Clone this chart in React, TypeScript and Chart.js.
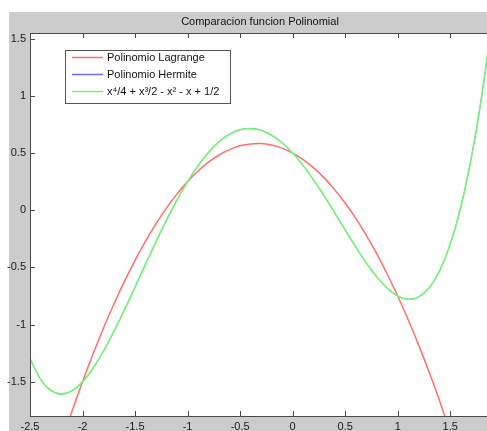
import React, { useEffect, useRef } from "react";
import { Chart, registerables } from "chart.js";

Chart.register(...registerables);

const chartTitle = "Comparacion funcion Polinomial";
const legendLabels = [
  "Polinomio Lagrange",
  "Polinomio Hermite",
  "x\u2074/4 + x\u00b3/2 - x\u00b2 - x + 1/2",
];

const xValues = [
  -2.5, -2.4, -2.3, -2.2, -2.1, -2.0, -1.9, -1.8, -1.7, -1.6, -1.5, -1.4, -1.3,
  -1.2, -1.1, -1.0, -0.9, -0.8, -0.7, -0.6, -0.5, -0.4, -0.3, -0.2, -0.1, 0.0,
  0.1, 0.2, 0.3, 0.4, 0.5, 0.6, 0.7, 0.8, 0.9, 1.0, 1.1, 1.2, 1.3, 1.4, 1.5,
  1.6, 1.7, 1.8, 1.9,
];

const lagrangeValues = [
  null, null, -2.318, -2.03, -1.758, -1.5, -1.258, -1.03, -0.818, -0.62, -0.438,
  -0.27, -0.118, 0.02, 0.143, 0.25, 0.343, 0.42, 0.483, 0.53, 0.563, 0.58,
  0.583, 0.57, 0.543, 0.5, 0.443, 0.37, 0.283, 0.18, 0.063, -0.07, -0.218,
  -0.38, -0.558, -0.75, -0.958, -1.18, -1.418, -1.67, -1.938, -2.22, null, null,
  null,
];

const hermiteValues = [
  -1.297, -1.478, -1.577, -1.608, -1.579, -1.5, -1.382, -1.232, -1.059, -0.87,
  -0.672, -0.472, -0.275, -0.086, 0.091, 0.25, 0.39, 0.506, 0.599, 0.664,
  0.703, 0.714, 0.699, 0.656, 0.59, 0.5, 0.391, 0.264, 0.126, -0.022, -0.172,
  -0.32, -0.459, -0.582, -0.682, -0.75, -0.779, -0.758, -0.678, -0.528, -0.297,
  0.026, 0.455, 1.0, 1.678,
];

const exactValues = [
  -1.297, -1.478, -1.577, -1.608, -1.579, -1.5, -1.382, -1.232, -1.059, -0.87,
  -0.672, -0.472, -0.275, -0.086, 0.091, 0.25, 0.39, 0.506, 0.599, 0.664,
  0.703, 0.714, 0.699, 0.656, 0.59, 0.5, 0.391, 0.264, 0.126, -0.022, -0.172,
  -0.32, -0.459, -0.582, -0.682, -0.75, -0.779, -0.758, -0.678, -0.528, -0.297,
  0.026, 0.455, 1.0, 1.678,
];

const xTicks = [-2.5, -2, -1.5, -1, -0.5, 0, 0.5, 1, 1.5];
const yTicks = [-1.5, -1, -0.5, 0, 0.5, 1, 1.5];

const FONT = '"Liberation Sans", Arial, sans-serif';
const RED = "#ff6e6e";
const BLUE = "#6a6aff";
const GREEN = "#74f274";
const AXIS = "#4a4a4a";

function pts(vals: (number | null)[]) {
  return xValues.map((x, i) => ({ x, y: vals[i] }));
}

const decorPlugin = {
  id: "decor",
  beforeDraw(chart: any) {
    const { ctx, chartArea: a, width, height } = chart;
    ctx.save();
    ctx.fillStyle = "#ffffff";
    ctx.fillRect(0, 0, width, height);
    ctx.fillStyle = "#cccccc";
    ctx.fillRect(9, 12, width - 9, height - 12);
    ctx.fillStyle = "#ffffff";
    ctx.fillRect(a.left, a.top, a.right - a.left, a.bottom - a.top);
    ctx.restore();
  },
  afterDraw(chart: any) {
    const { ctx, chartArea: a, scales } = chart;
    const xs = scales.x;
    const ys = scales.y;
    ctx.save();
    ctx.strokeStyle = AXIS;
    ctx.lineWidth = 1;
    ctx.beginPath();
    ctx.moveTo(Math.round(a.left) + 0.5, a.top);
    ctx.lineTo(Math.round(a.left) + 0.5, a.bottom + 1);
    ctx.moveTo(a.left, Math.round(a.top) + 0.5);
    ctx.lineTo(a.right, Math.round(a.top) + 0.5);
    ctx.moveTo(a.left, Math.round(a.bottom) + 0.5);
    ctx.lineTo(a.right, Math.round(a.bottom) + 0.5);
    const tl = 5;
    xTicks.forEach((v) => {
      const px = Math.round(xs.getPixelForValue(v)) + 0.5;
      ctx.moveTo(px, a.bottom);
      ctx.lineTo(px, a.bottom - tl);
      ctx.moveTo(px, a.top);
      ctx.lineTo(px, a.top + tl);
    });
    yTicks.forEach((v) => {
      const py = Math.round(ys.getPixelForValue(v)) + 0.5;
      ctx.moveTo(a.left, py);
      ctx.lineTo(a.left + tl, py);
    });
    ctx.stroke();

    ctx.fillStyle = "#111";
    ctx.font = "11px " + FONT;
    ctx.textAlign = "center";
    ctx.textBaseline = "middle";
    ctx.fillText(chartTitle, 260, 22);

    const lx = 65, ly = 50, lw = 165, lh = 53;
    ctx.fillStyle = "#ffffff";
    ctx.fillRect(lx, ly, lw, lh);
    ctx.strokeStyle = "#555";
    ctx.strokeRect(lx + 0.5, ly + 0.5, lw, lh);
    const colors = [RED, BLUE, GREEN];
    legendLabels.forEach((lab, i) => {
      const y = 57 + i * 17;
      ctx.strokeStyle = colors[i];
      ctx.lineWidth = 1.5;
      ctx.beginPath();
      ctx.moveTo(72, y + 0.5);
      ctx.lineTo(103, y + 0.5);
      ctx.stroke();
      ctx.fillStyle = "#111";
      ctx.textAlign = "left";
      ctx.textBaseline = "middle";
      ctx.fillText(lab, 107, y + 1);
    });
    ctx.restore();
  },
};

export default function App() {
  const ref = useRef<HTMLCanvasElement | null>(null);

  useEffect(() => {
    if (!ref.current) return;
    const tickFont = { family: FONT, size: 11 };
    const chart = new Chart(ref.current, {
      type: "line",
      data: {
        datasets: [
          {
            label: legendLabels[0],
            data: pts(lagrangeValues),
            borderColor: RED,
            borderWidth: 1.5,
            pointRadius: 0,
            tension: 0.4,
            fill: false,
            order: 2,
          },
          {
            label: legendLabels[1],
            data: pts(hermiteValues),
            borderColor: BLUE,
            borderWidth: 0.8,
            pointRadius: 0,
            tension: 0.4,
            fill: false,
            order: 3,
          },
          {
            label: legendLabels[2],
            data: pts(exactValues),
            borderColor: GREEN,
            borderWidth: 1.6,
            pointRadius: 0,
            tension: 0.4,
            fill: false,
            order: 1,
          },
        ],
      },
      options: {
        responsive: false,
        animation: false,
        devicePixelRatio: 1,
        layout: { padding: { top: 33, left: 0, right: 0, bottom: 0 } },
        plugins: {
          legend: { display: false },
          title: { display: false },
          tooltip: { enabled: false },
        },
        scales: {
          x: {
            type: "linear",
            min: -2.5,
            max: 1.85,
            grid: { display: false, drawTicks: false },
            border: { display: false },
            afterBuildTicks: (s: any) => {
              s.ticks = xTicks.map((v) => ({ value: v }));
            },
            afterFit: (s: any) => {
              s.height = 15;
            },
            ticks: {
              padding: 4,
              color: "#1a1a1a",
              font: tickFont,
              maxRotation: 0,
              autoSkip: false,
              callback: (v: any) => String(v),
            },
          },
          y: {
            type: "linear",
            min: -1.8,
            max: 1.55,
            grid: { display: false, drawTicks: false },
            border: { display: false },
            afterBuildTicks: (s: any) => {
              s.ticks = yTicks.map((v) => ({ value: v }));
            },
            afterFit: (s: any) => {
              s.width = 30;
            },
            ticks: {
              padding: 4,
              color: "#1a1a1a",
              font: tickFont,
              autoSkip: false,
              callback: (v: any) => String(v),
            },
          },
        },
      },
      plugins: [decorPlugin],
    } as any);
    return () => chart.destroy();
  }, []);

  return (
    <div style={{ position: "fixed", left: 0, top: 0, width: 487, height: 431, overflow: "hidden" }}>
      <canvas ref={ref} width={487} height={431} style={{ display: "block" }} />
    </div>
  );
}
